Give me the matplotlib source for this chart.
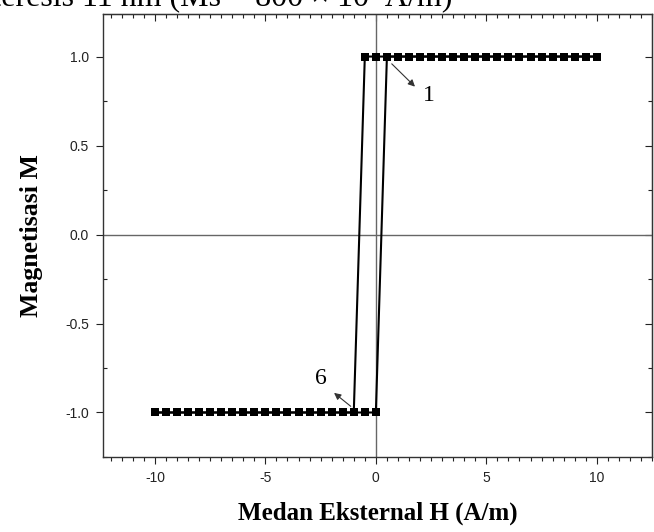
import matplotlib
matplotlib.use("Agg")
import matplotlib.pyplot as plt
from matplotlib.ticker import MultipleLocator, NullFormatter

plt.rcParams["axes.unicode_minus"] = False

# descending branch (H from +10 to -10)
h_down = [10.0, 9.5, 9.0, 8.5, 8.0, 7.5, 7.0, 6.5, 6.0, 5.5, 5.0, 4.5, 4.0, 3.5,
          3.0, 2.5, 2.0, 1.5, 1.0, 0.5, 0.0, -0.5, -1.0, -1.5, -2.0, -2.5, -3.0,
          -3.5, -4.0, -4.5, -5.0, -5.5, -6.0, -6.5, -7.0, -7.5, -8.0, -8.5,
          -9.0, -9.5, -10.0]
m_down = [1, 1, 1, 1, 1, 1, 1, 1, 1, 1, 1, 1, 1, 1, 1, 1, 1, 1, 1, 1, 1, 1,
          -1, -1, -1, -1, -1, -1, -1, -1, -1, -1, -1, -1, -1, -1, -1, -1, -1,
          -1, -1]

# ascending branch (H from -10 to +10)
h_up = [-10.0, -9.5, -9.0, -8.5, -8.0, -7.5, -7.0, -6.5, -6.0, -5.5, -5.0,
        -4.5, -4.0, -3.5, -3.0, -2.5, -2.0, -1.5, -1.0, -0.5, 0.0, 0.5, 1.0,
        1.5, 2.0, 2.5, 3.0, 3.5, 4.0, 4.5, 5.0, 5.5, 6.0, 6.5, 7.0, 7.5, 8.0,
        8.5, 9.0, 9.5, 10.0]
m_up = [-1, -1, -1, -1, -1, -1, -1, -1, -1, -1, -1, -1, -1, -1, -1, -1, -1,
        -1, -1, -1, -1, 1, 1, 1, 1, 1, 1, 1, 1, 1, 1, 1, 1, 1, 1, 1, 1, 1, 1,
        1, 1]

yticks = [-1.0, -0.5, 0.0, 0.5, 1.0]
ytick_labels = ["-1.0", "-0.5", "0.0", "0.5", "1.0"]

fig = plt.figure(figsize=(6.54, 5.32), dpi=100)
ax = fig.add_axes([0.1575, 0.141, 0.8395, 0.833])

ax.axhline(0, color="#666666", lw=1.0, zorder=1)
ax.axvline(0, color="#666666", lw=1.0, zorder=1)

for h, m in [(h_down, m_down), (h_up, m_up)]:
    ax.plot(h, m, color="black", lw=1.5, marker="s", markersize=5.2,
            markeredgewidth=0, zorder=3)

ax.set_xlim(-12.35, 12.5)
ax.set_ylim(-1.25, 1.24)

ax.xaxis.set_major_locator(MultipleLocator(5))
ax.xaxis.set_minor_locator(MultipleLocator(0.5))
ax.yaxis.set_minor_locator(MultipleLocator(0.25))
ax.set_yticks(yticks)
ax.set_yticklabels(ytick_labels)

ax.tick_params(which="both", labelsize=10, width=0.8, colors="#222222")
ax.tick_params(axis="x", which="major", direction="out", length=5, pad=5)
ax.tick_params(axis="x", which="minor", direction="out", length=3)
ax.tick_params(axis="y", which="major", direction="out", length=5, pad=5)
ax.tick_params(axis="y", which="minor", direction="in", length=3)
for s in ax.spines.values():
    s.set_linewidth(1.0)
    s.set_color("#333333")

# inward ticks on top and right
top = ax.secondary_xaxis("top")
top.xaxis.set_major_locator(MultipleLocator(5))
top.xaxis.set_minor_locator(MultipleLocator(0.5))
top.xaxis.set_major_formatter(NullFormatter())
top.tick_params(which="major", direction="in", length=5, width=0.8, colors="#222222")
top.tick_params(which="minor", direction="in", length=3, width=0.8, colors="#222222")
right = ax.secondary_yaxis("right")
right.yaxis.set_major_locator(MultipleLocator(0.5))
right.yaxis.set_minor_locator(MultipleLocator(0.25))
right.yaxis.set_major_formatter(NullFormatter())
right.tick_params(which="major", direction="in", length=5, width=0.8, colors="#222222")
right.tick_params(which="minor", direction="in", length=3, width=0.8, colors="#222222")

for lab in ax.get_xticklabels() + ax.get_yticklabels():
    lab.set_fontfamily("Liberation Sans")

ax.set_xlabel("Medan Eksternal H (A/m)", fontfamily="Liberation Serif",
              fontweight="bold", fontsize=18, labelpad=12)
ax.set_ylabel("Magnetisasi M", fontfamily="Liberation Serif",
              fontweight="bold", fontsize=18.5, labelpad=16)

# labels with arrows
ax.annotate("", xy=(1.86, 0.82), xytext=(0.63, 0.97),
            arrowprops=dict(arrowstyle="-|>", color="#333333", lw=0.8,
                            mutation_scale=10))
ax.text(2.4, 0.78, "1", fontfamily="Liberation Serif", fontsize=17,
        ha="center", va="center")
ax.annotate("", xy=(-1.99, -0.88), xytext=(-1.04, -0.975),
            arrowprops=dict(arrowstyle="-|>", color="#333333", lw=0.8,
                            mutation_scale=10))
ax.text(-2.5, -0.81, "6", fontfamily="Liberation Serif", fontsize=17,
        ha="center", va="center")

# partially cut caption at the top
fig.text(452 / 654, 1 - 5 / 532, "Histeresis 11 nm (Ms = 800 \u00d7 10\u00b3 A/m)",
         fontfamily="Liberation Serif", fontsize=23, ha="right", va="baseline")

fig.savefig("out.png", dpi=100)
